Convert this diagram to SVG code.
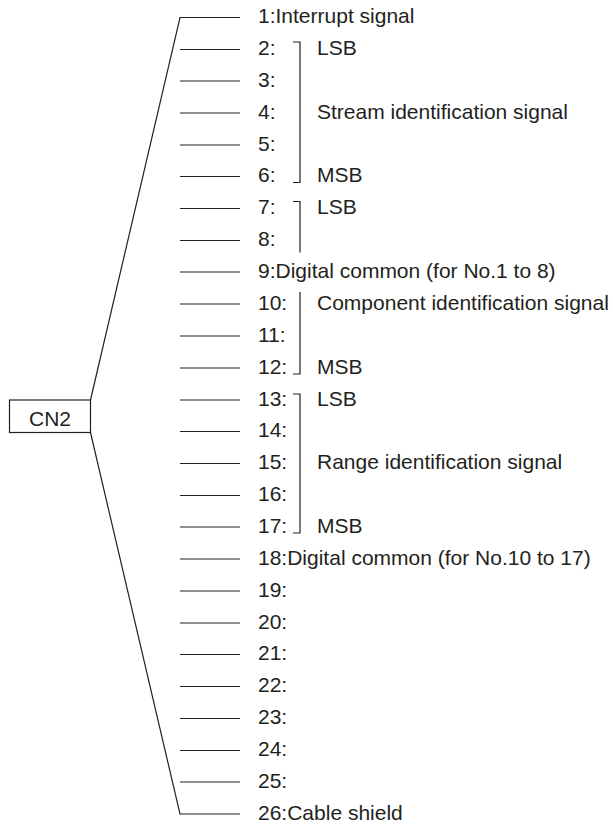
<svg xmlns="http://www.w3.org/2000/svg" width="613" height="827" viewBox="0 0 613 827">
  <style>
    text { font-family: "Liberation Sans", Arial, sans-serif; font-size: 21px; fill: #231f20; }
    .wire { stroke: #231f20; stroke-width: 1.2; fill: none; }
    .brk { stroke: #231f20; stroke-width: 1.2; fill: none; }
    .box { stroke: #231f20; stroke-width: 1.2; fill: #ffffff; }
  </style>
  <rect width="613" height="827" fill="#ffffff"/>

  <!-- connector CN2 -->
  <g id="cn2">
    <rect class="box" x="9.5" y="400" width="81" height="32.5"/>
    <text x="50" y="426" text-anchor="middle">CN2</text>
  </g>

  <!-- wires: fan-out from the connector and one stub per pin -->
  <g id="connectors">
    <path class="wire" d="M90.5,400 L180,17.5 H240"/>
    <path class="wire" d="M90.5,432.5 L180,814 H240"/>
    <path class="wire" d="M180,49.5 H240 M180,81 H240 M180,113 H240 M180,145 H240 M180,176.5 H240
      M180,208.5 H240 M180,240.5 H240 M180,272 H240 M180,304 H240 M180,336 H240 M180,368 H240
      M180,400 H240 M180,431.5 H240 M180,463.5 H240 M180,495.5 H240 M180,527 H240 M180,559 H240
      M180,591 H240 M180,623 H240 M180,654.5 H240 M180,686.5 H240 M180,718.5 H240 M180,750.5 H240
      M180,782 H240"/>
  </g>

  <!-- pin labels -->
  <g id="pin1"><text x="258" y="23">1:Interrupt signal</text></g>
  <g id="pin2"><text x="258" y="55">2:</text></g>
  <g id="pin3"><text x="258" y="86.5">3:</text></g>
  <g id="pin4"><text x="258" y="118.5">4:</text></g>
  <g id="pin5"><text x="258" y="150.5">5:</text></g>
  <g id="pin6"><text x="258" y="182">6:</text></g>
  <g id="pin7"><text x="258" y="214">7:</text></g>
  <g id="pin8"><text x="258" y="246">8:</text></g>
  <g id="pin9"><text x="258" y="277.5">9:Digital common (for No.1 to 8)</text></g>
  <g id="pin10"><text x="258" y="309.5">10:</text></g>
  <g id="pin11"><text x="258" y="341.5">11:</text></g>
  <g id="pin12"><text x="258" y="373.5">12:</text></g>
  <g id="pin13"><text x="258" y="405.5">13:</text></g>
  <g id="pin14"><text x="258" y="437">14:</text></g>
  <g id="pin15"><text x="258" y="469">15:</text></g>
  <g id="pin16"><text x="258" y="501">16:</text></g>
  <g id="pin17"><text x="258" y="532.5">17:</text></g>
  <g id="pin18"><text x="258" y="564.5">18:Digital common (for No.10 to 17)</text></g>
  <g id="pin19"><text x="258" y="596.5">19:</text></g>
  <g id="pin20"><text x="258" y="628.5">20:</text></g>
  <g id="pin21"><text x="258" y="660">21:</text></g>
  <g id="pin22"><text x="258" y="692">22:</text></g>
  <g id="pin23"><text x="258" y="724">23:</text></g>
  <g id="pin24"><text x="258" y="756">24:</text></g>
  <g id="pin25"><text x="258" y="787.5">25:</text></g>
  <g id="pin26"><text x="258" y="819.5">26:Cable shield</text></g>

  <!-- signal groups with brackets -->
  <g id="stream-id">
    <path class="brk" d="M293,42 H300 V182.5 H293"/>
    <text x="317" y="55">LSB</text>
    <text x="317" y="118.5">Stream identification signal</text>
    <text x="317" y="182">MSB</text>
  </g>
  <g id="component-id-low">
    <path class="brk" d="M293,201.5 H300 V252.5"/>
    <text x="317" y="214">LSB</text>
  </g>
  <g id="component-id-high">
    <path class="brk" d="M300,292 V374 H293"/>
    <text x="317" y="309.5">Component identification signal</text>
    <text x="317" y="373.5">MSB</text>
  </g>
  <g id="range-id">
    <path class="brk" d="M293,394 H300 V533 H293"/>
    <text x="317" y="405.5">LSB</text>
    <text x="317" y="469">Range identification signal</text>
    <text x="317" y="532.5">MSB</text>
  </g>
</svg>
